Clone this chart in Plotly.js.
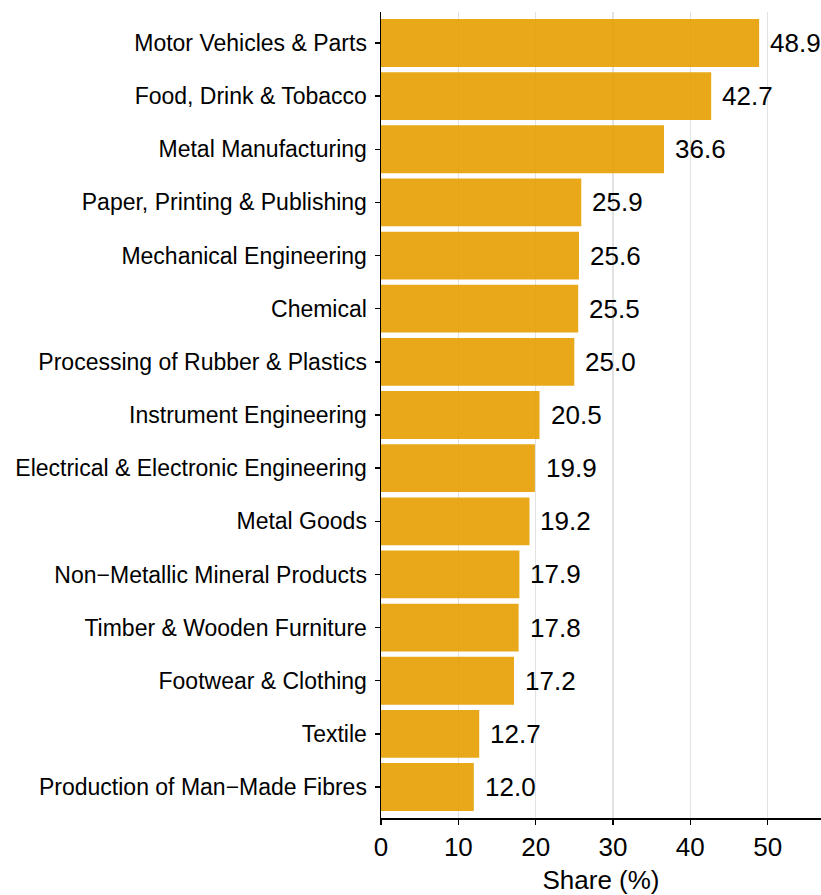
<!DOCTYPE html>
<html>
<head>
<meta charset="utf-8">
<script src="https://cdn.plot.ly/plotly-3.0.1.min.js"></script>
<style>html,body{margin:0;padding:0;background:#fff;}#chart{width:821px;height:895px;}</style>
</head>
<body>
<div id="chart"></div>
<script>
const categories = [
  "Motor Vehicles & Parts",
  "Food, Drink & Tobacco",
  "Metal Manufacturing",
  "Paper, Printing & Publishing",
  "Mechanical Engineering",
  "Chemical",
  "Processing of Rubber & Plastics",
  "Instrument Engineering",
  "Electrical & Electronic Engineering",
  "Metal Goods",
  "Non\u2212Metallic Mineral Products",
  "Timber & Wooden Furniture",
  "Footwear & Clothing",
  "Textile",
  "Production of Man\u2212Made Fibres"
];
const shares = [48.9, 42.7, 36.6, 25.9, 25.6, 25.5, 25.0, 20.5, 19.9, 19.2, 17.9, 17.8, 17.2, 12.7, 12.0];
const xTicks = [0, 10, 20, 30, 40, 50];

const FONT = "Liberation Sans, Arial, Helvetica, sans-serif";

const trace = {
  type: "bar",
  orientation: "h",
  x: shares,
  y: categories,
  marker: { color: "rgba(230,159,0,0.9)", line: { width: 0 } },
  width: 0.9,
  hoverinfo: "none"
};

const annotations = shares.map((v, i) => ({
  x: v,
  y: categories[i],
  xref: "x",
  yref: "y",
  text: v.toFixed(1),
  showarrow: false,
  xanchor: "left",
  yanchor: "middle",
  xshift: 9,
  font: { family: FONT, size: 26, color: "#000" }
}));

const layout = {
  width: 821,
  height: 895,
  margin: { l: 381, r: 0, t: 12, b: 77, pad: 0 },
  paper_bgcolor: "#fff",
  plot_bgcolor: "#fff",
  showlegend: false,
  bargap: 0.1,
  font: { family: FONT, color: "#000" },
  xaxis: {
    range: [0, 56.9],
    tickvals: xTicks,
    ticktext: xTicks.map(String),
    showgrid: true,
    gridcolor: "#e2e2e2",
    gridwidth: 1.3,
    zeroline: false,
    showline: true,
    linecolor: "#000",
    linewidth: 1.5,
    ticks: "outside",
    ticklen: 5,
    tickwidth: 1.5,
    tickcolor: "#000",
    tickfont: { family: FONT, size: 26, color: "#000" },
    title: { text: "Share (%)", font: { family: FONT, size: 26, color: "#000" }, standoff: 12 },
    fixedrange: true
  },
  yaxis: {
    type: "category",
    categoryorder: "array",
    categoryarray: categories,
    range: [14.583, -0.583],
    showgrid: false,
    zeroline: false,
    showline: true,
    linecolor: "#000",
    linewidth: 1.5,
    ticks: "outside",
    ticklen: 5,
    tickwidth: 1.5,
    tickcolor: "#000",
    ticklabelstandoff: 3,
    tickfont: { family: FONT, size: 23, color: "#000" },
    fixedrange: true
  },
  annotations: annotations
};

Plotly.newPlot("chart", [trace], layout, { staticPlot: true, displayModeBar: false });
</script>
</body>
</html>
